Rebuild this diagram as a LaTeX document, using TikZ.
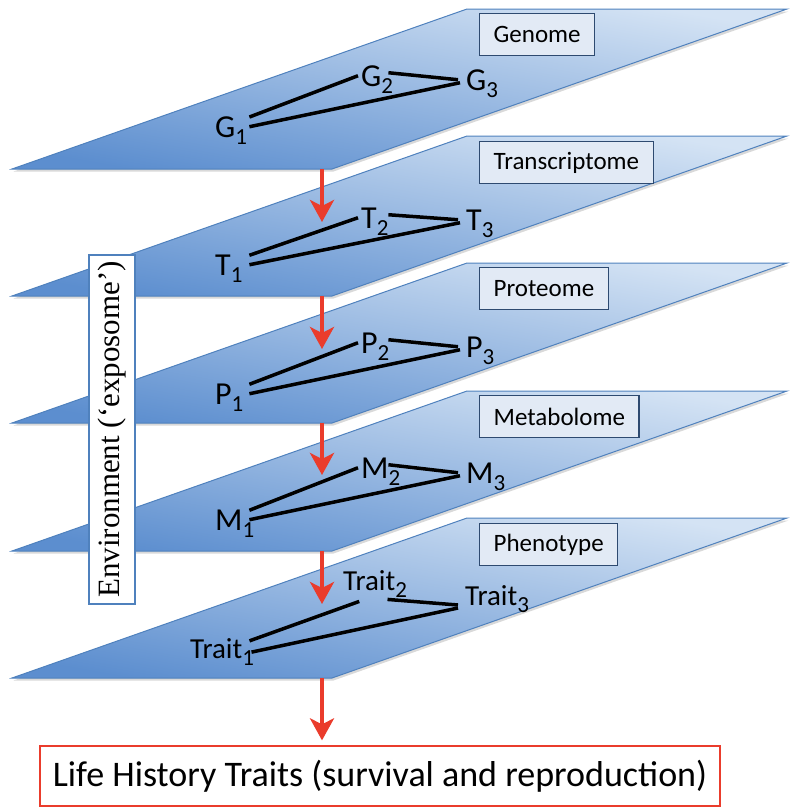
\documentclass[tikz,border=0pt]{standalone}
\usepackage{fontspec}
\setmainfont{Carlito}
\newfontfamily\envfont{Liberation Serif}
\usetikzlibrary{arrows.meta}
\usetikzlibrary{shadows}
\usetikzlibrary{calc}

\definecolor{planelight}{RGB}{212,227,244}
\definecolor{planedark}{RGB}{92,142,207}
\definecolor{planeedge}{RGB}{79,129,189}
\definecolor{boxfill}{RGB}{226,234,245}
\definecolor{boxedge}{RGB}{46,74,112}
\definecolor{flowred}{RGB}{234,60,44}

\newcommand{\lsub}[1]{\rlap{\raisebox{-7pt}[0pt][0pt]{\fontsize{23}{23}\selectfont #1}}}

\begin{document}
\begin{tikzpicture}[%
x=1pt, y=-1pt,
>={Stealth[length=22pt,width=24pt,inset=6pt]},
plane/.style={draw=planeedge, line width=1pt, top color=planelight, bottom color=planedark, shading angle=-10,
  drop shadow={shadow xshift=1.5pt, shadow yshift=-2.5pt, opacity=.3}},
layername/.style={anchor=north west, draw=boxedge, fill=boxfill, line width=1.3pt, minimum height=42pt,
  inner xsep=14pt, font=\fontsize{25}{28}\selectfont},
lbl/.style={anchor=base west, inner xsep=3pt, inner ysep=1pt, text width=31pt, font=\fontsize{32}{36}\selectfont},
traitlbl/.style={anchor=base west, inner xsep=3pt, inner ysep=1pt, font=\fontsize{29}{32}\selectfont},
link/.style={line width=3.5pt},
flow/.style={->, draw=flowred, fill=flowred, line width=4.5pt},
envbox/.style={rotate=90, draw=planeedge, fill=white, line width=1.3pt, inner sep=0pt,
  minimum width=349pt, minimum height=46pt, font=\envfont\fontsize{31}{36}\selectfont},
lifebox/.style={draw=flowred, fill=white, line width=1.3pt, minimum width=680pt, minimum height=60pt,
  font=\fontsize{36}{40}\selectfont},
]

\useasboundingbox (0,0) rectangle (800,812);

% genome
\coordinate (gcorner) at (12,169);
\draw[plane] (gcorner) -- ++(320,0) -- ++(455,-160) -- ++(-320,0) -- cycle;
\node[layername] (genome) at (479,13) {Genome};
\node[lbl] (g1) at (212,137) {G\lsub{1}};
\node[lbl] (g2) at (358,86) {G\lsub{2}};
\node[lbl] (g3) at (463,90) {G\lsub{3}};
\draw[link] ([yshift=-2pt]g1.north east) -- (g2.west);
\draw[link] (g1.east) -- ([xshift=-3pt,yshift=-3pt]g3.west);
\draw[link] ([xshift=-7pt,yshift=3pt]g2.east) -- ([xshift=-5pt]g3.west);
\coordinate (gout) at (322,169);

% transcriptome
\coordinate (tcorner) at (12,296);
\draw[plane] (tcorner) -- ++(320,0) -- ++(455,-160) -- ++(-320,0) -- cycle;
\node[layername] (transcriptome) at (479,141) {Transcriptome};
\node[lbl] (t1) at (212,275) {T\lsub{1}};
\node[lbl] (t2) at (358,228) {T\lsub{2}};
\node[lbl] (t3) at (463,230) {T\lsub{3}};
\draw[link] ([yshift=-2pt]t1.north east) -- (t2.west);
\draw[link] (t1.east) -- ([xshift=-3pt,yshift=-3pt]t3.west);
\draw[link] ([xshift=-7pt,yshift=3pt]t2.east) -- ([xshift=-5pt]t3.west);
\coordinate (tin) at (322,222);
\coordinate (tout) at (322,296);
\draw[flow] (gout) -- (tin);

% proteome
\coordinate (pcorner) at (12,423);
\draw[plane] (pcorner) -- ++(320,0) -- ++(455,-160) -- ++(-320,0) -- cycle;
\node[layername] (proteome) at (479,267) {Proteome};
\node[lbl] (p1) at (212,404) {P\lsub{1}};
\node[lbl] (p2) at (358,353) {P\lsub{2}};
\node[lbl] (p3) at (463,357) {P\lsub{3}};
\draw[link] ([yshift=-2pt]p1.north east) -- (p2.west);
\draw[link] (p1.east) -- ([xshift=-3pt,yshift=-3pt]p3.west);
\draw[link] ([xshift=-7pt,yshift=3pt]p2.east) -- ([xshift=-5pt]p3.west);
\coordinate (pin) at (322,349);
\coordinate (pout) at (322,423);
\draw[flow] (tout) -- (pin);

% metabolome
\coordinate (mcorner) at (12,551);
\draw[plane] (mcorner) -- ++(320,0) -- ++(455,-160) -- ++(-320,0) -- cycle;
\node[layername] (metabolome) at (479,395) {Metabolome};
\node[lbl] (m1) at (212,530) {M\lsub{1}};
\node[lbl] (m2) at (358,478) {M\lsub{2}};
\node[lbl] (m3) at (463,483) {M\lsub{3}};
\draw[link] ([yshift=-2pt]m1.north east) -- (m2.west);
\draw[link] (m1.east) -- ([xshift=-3pt,yshift=-3pt]m3.west);
\draw[link] ([xshift=-7pt,yshift=3pt]m2.east) -- ([xshift=-5pt]m3.west);
\coordinate (min) at (322,475);
\coordinate (mout) at (322,551);
\draw[flow] (pout) -- (min);

% phenotype
\coordinate (tracorner) at (12,678);
\draw[plane] (tracorner) -- ++(320,0) -- ++(455,-160) -- ++(-320,0) -- cycle;
\node[layername] (phenotype) at (479,523) {Phenotype};
\node[traitlbl] (trait1) at (187,658) {Trait\lsub{1}};
\node[traitlbl] (trait2) at (340,590) {Trait\lsub{2}};
\node[traitlbl] (trait3) at (462,605) {Trait\lsub{3}};
\draw[link] ([xshift=4pt,yshift=-4pt]trait1.north east) -- ([xshift=-10pt,yshift=-10pt]trait2.south);
\draw[link] ([xshift=6pt,yshift=-4pt]trait1.east) -- ([xshift=-4pt,yshift=-3pt]trait3.base west);
\draw[link] ([xshift=-11pt,yshift=-8pt]trait2.south east) -- ([xshift=-4pt]trait3.base west);
\coordinate (train) at (322,604);
\coordinate (traout) at (322,678);
\draw[flow] (mout) -- (train);

\node[envbox] (env) at (112,429.5) {Environment (‘exposome’)};

\node[lifebox] (life) at (380,776) {Life History Traits (survival and reproduction)};
\draw[flow, shorten >=5pt] (traout) -- (traout |- life.north);

\end{tikzpicture}
\end{document}
